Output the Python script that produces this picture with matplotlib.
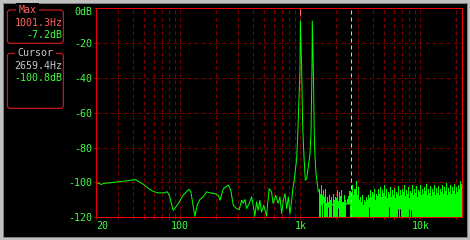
import matplotlib
matplotlib.use("Agg")
import matplotlib.pyplot as plt
import matplotlib.transforms as mtransforms
from matplotlib.patches import Rectangle, FancyBboxPatch

# spectrum trace, low frequency part (Hz, dB)
line_freq = [20, 22.1, 22.8, 26.8, 30.1, 35.9, 41.9, 43.3, 50.6, 54.1, 59.3, 65.3,
             72.0, 77.9, 80.9, 87.3, 96.3, 105.3, 118.4, 122.5, 132.3, 138.3, 145.6,
             155.1, 165.5, 176.6, 194.6, 207.4, 214.4, 228.6, 251.2, 263, 276.5, 295,
             310, 324.7, 335, 345.8, 357, 375.6, 393, 405, 418.6, 432, 445.9, 460, 475,
             497, 523, 550, 576, 593, 625, 653, 677, 700, 722, 746, 770, 795, 821, 848,
             864, 886, 903, 933, 951, 975, 994, 1001.3, 1027, 1047, 1074, 1101, 1131,
             1166, 1205, 1228, 1252, 1259, 1284, 1308, 1326, 1352, 1386, 1413]
line_db = [-100.1, -101.2, -100.6, -100.1, -99.7, -99.1, -98.4, -98.8, -101.6, -103.5,
           -105.1, -106.0, -106.0, -105.4, -107.4, -116.0, -112.2, -107.4, -103.9, -105.4,
           -119.4, -113.0, -109.8, -108.3, -105.4, -106.0, -106.4, -107.4, -110.2, -103.5,
           -101.6, -104.1, -113.1, -115.0, -115.6, -110.2, -112.0, -109.8, -115.0, -112.0,
           -108.3, -113.1, -119.4, -111.2, -116.0, -110.2, -117.0, -113.1, -119.4, -103.5,
           -105.4, -112.0, -107.4, -112.0, -108.3, -117.9, -110.2, -106.4, -115.0, -108.3,
           -117.9, -110.2, -104.5, -99.7, -94.9, -86.3, -73.9, -52.8, -35.6, -7.2, -35.6,
           -68.1, -85.4, -98.8, -97.8, -91.1, -83.4, -72.0, -34.6, -7.5, -34.6, -72.0,
           -85.4, -94.9, -100.5, -105.4]

# dense noise floor above ~1.4 kHz: local peaks
noise_freq = [1432, 1459, 1516, 1575, 1637, 1701, 1768, 1837, 1909, 1984, 2062, 2142,
              2226, 2314, 2404, 2498, 2596, 2698, 2804, 2914, 3028, 3146, 3269, 3398,
              3531, 3669, 3813, 3962, 4117, 4278, 4446, 4620, 4801, 4989, 5184, 5387,
              5598, 5817, 6045, 6282, 6528, 6783, 7049, 7325, 7612, 7910, 8220, 8541,
              8876, 9223, 9584, 9960, 10350, 10755, 11176, 11614, 12068, 12541, 13032,
              13542, 14072, 14623, 15196, 15791, 16409, 17052, 17719, 18413, 19134,
              19883, 20662, 21471, 22050]
noise_top = [-106, -103.5, -101.6, -104.5, -103.5, -108.3, -107, -108.3, -106.4, -108.3,
             -104.5, -105.5, -104.5, -107.4, -110.2, -109.3, -105, -101.6, -103.5, -99,
             -102.6, -108.3, -107.4, -110, -108.3, -107, -104.5, -105.5, -103.5, -106.4,
             -104, -102.6, -104.5, -101.6, -103.5, -105.5, -102.6, -104.5, -103, -105.5,
             -102, -104.5, -103.5, -101.6, -104.5, -102.6, -105, -101.6, -103.5, -102,
             -104.5, -101.6, -103.5, -102.6, -100.8, -103.5, -102, -104, -101.6, -103,
             -102, -103.5, -101.6, -102.6, -100.6, -103, -101.6, -102.6, -101, -102.6,
             -101.6, -99, -101]
# noise floor: local dips between the peaks
dip_freq = [1487, 1545, 1606, 1669, 1734, 1802, 1872, 1946, 2022, 2101, 2183, 2269,
            2358, 2450, 2546, 2646, 2750, 2858, 2970, 3086, 3207, 3333, 3463, 3599,
            3740, 3887, 4039, 4197, 4361, 4532, 4710, 4894, 5086, 5285, 5492, 5707,
            5931, 6163, 6405, 6655, 6916, 7187, 7469, 7761, 8065, 8381, 8709, 9050,
            9405, 9773, 10140, 10553, 10966, 11395, 11841, 12305, 12787, 13287, 13807,
            14348, 14910, 15493, 16100, 16730, 17385, 18066, 18773, 19508, 20271, 21065]
dip_db = [-106.5, -107, -108.5, -112, -111, -110, -112.5, -110, -109, -110.5, -108, -111,
          -113, -112, -108, -106, -107.5, -104, -107, -110, -111, -113, -111.5, -110,
          -109, -108.5, -107.5, -110, -108, -106.5, -108.5, -106, -108, -109, -106.5,
          -108.5, -107, -109, -106.5, -108, -107.5, -105.5, -108, -106.5, -109, -106,
          -107.5, -106, -108.5, -105.5, -107.5, -106.5, -105, -107.5, -106, -108, -105.5,
          -107, -106, -107.5, -105.5, -106.5, -105, -107, -105.5, -106.5, -105, -106.5,
          -105.5, -104]
# dark notches at the bottom of the noise floor
notch_freq = [1480, 1560, 1700, 1840, 2062, 2400, 2450, 2500, 2550, 3740, 5490, 6530,
              6780, 8065, 8380]
notch_db = [-113, -112, -114, -113, -114.5, -112.5, -112.5, -112.5, -112.5, -114, -114,
            -115, -115, -115.5, -116]

y_ticks = [0, -20, -40, -60, -80, -100, -120]
y_labels = ["0dB", "-20", "-40", "-60", "-80", "-100", "-120"]
x_ticks = [20, 100, 1000, 10000]
x_labels = ["20", "100", "1k", "10k"]
grid_freq = [30, 40, 50, 60, 70, 80, 90, 100, 200, 300, 400, 500, 600, 700, 800, 900,
             1000, 2000, 3000, 4000, 5000, 6000, 7000, 8000, 9000, 10000, 20000]

max_freq, max_db = 1001.3, -7.2
cursor_freq, cursor_db = 2659.4, -100.8

GREEN = "#00ff00"
LABEL_GREEN = "#40ff40"
RED = "#f00000"
DARK_RED = "#800000"
PINK = "#ff6464"
GRAY = "#c8c8c8"
FONT = "DejaVu Sans Mono"
FS = 7.2
PX = 0.72  # one pixel in points at 100 dpi

W, H = 470, 240
fig = plt.figure(figsize=(W / 100, H / 100), dpi=100, facecolor="#c0c0c0")

# overlay in pixel coordinates for the frame and side panels
bg = fig.add_axes([0, 0, 1, 1], zorder=0)
bg.set_xlim(0, W)
bg.set_ylim(H, 0)
bg.axis("off")
bg.add_patch(Rectangle((3, 3), 464, 234, facecolor="black", edgecolor="#808080", lw=PX))

for (y0, y1) in [(10, 43.3), (53.3, 108.3)]:
    bg.add_patch(FancyBboxPatch((7.3, y0), 56, y1 - y0,
                                boxstyle="round,pad=0,rounding_size=3",
                                facecolor="none", edgecolor="#f02020", lw=PX))
bg.text(27.5, 10, "Max", color=PINK, fontsize=FS, family=FONT, ha="center", va="center",
        bbox=dict(facecolor="black", edgecolor="none", pad=1.5))
bg.text(62.5, 22.7, "%.1fHz" % max_freq, color=PINK, fontsize=FS, family=FONT,
        ha="right", va="center")
bg.text(62.5, 35, "%.1fdB" % max_db, color=LABEL_GREEN, fontsize=FS, family=FONT,
        ha="right", va="center")
bg.text(35.5, 53.3, "Cursor", color=GRAY, fontsize=FS, family=FONT, ha="center",
        va="center", bbox=dict(facecolor="black", edgecolor="none", pad=1.5))
bg.text(62.5, 65.7, "%.1fHz" % cursor_freq, color=GRAY, fontsize=FS, family=FONT,
        ha="right", va="center")
bg.text(62.5, 78.3, "%.1fdB" % cursor_db, color=LABEL_GREEN, fontsize=FS, family=FONT,
        ha="right", va="center")

# main spectrum axes
left, right, top, bottom = 96.4, 461.5, 8.0, 217.3
ax = fig.add_axes([left / W, 1 - bottom / H, (right - left) / W, (bottom - top) / H],
                  zorder=1)
ax.set_facecolor("black")
ax.set_xscale("log")
ax.set_xlim(20, 22050)
ax.set_ylim(-120, 0)

dash = (0, (4, 3))
for f in grid_freq:
    ax.axvline(f, color=DARK_RED, lw=PX, ls=dash, zorder=1)
for d in y_ticks[1:-1]:
    ax.axhline(d, color=DARK_RED, lw=PX, ls=dash, zorder=1)

floor = sorted(zip(noise_freq + dip_freq, noise_top + dip_db))
ax.fill_between([p[0] for p in floor], [p[1] for p in floor], -120, step="mid",
                color=GREEN, lw=0, zorder=2)
ax.vlines(notch_freq, -120, notch_db, color="black", lw=PX, zorder=3)
ax.plot(line_freq, line_db, color=GREEN, lw=PX, zorder=4)

ax.axvline(cursor_freq, color="#d0d0d0", lw=PX, ls=dash, zorder=5)
ax.vlines([max_freq], -4.5, 0, color=PINK, lw=PX, zorder=6)

for s in ax.spines.values():
    s.set_color(RED)
    s.set_linewidth(PX)
    s.set_zorder(7)

ax.set_xticks(x_ticks)
ax.set_xticklabels(x_labels)
ax.set_xticks(grid_freq, minor=True)
ax.xaxis.set_minor_formatter(matplotlib.ticker.NullFormatter())
ax.set_yticks(y_ticks)
ax.set_yticklabels(y_labels)
ax.tick_params(axis="both", which="both", direction="out", length=2 * PX, width=PX,
               color="#b00000", labelcolor=LABEL_GREEN, labelsize=FS)
ax.tick_params(axis="x", pad=1.0)
ax.tick_params(axis="y", pad=1.6)
for lab in ax.get_xticklabels() + ax.get_yticklabels():
    lab.set_family(FONT)

# first x label sits inside the axis start, 0dB label is nudged down
xl = ax.get_xticklabels()[0]
xl.set_horizontalalignment("left")
yl = ax.get_yticklabels()[0]
yl.set_transform(yl.get_transform() + mtransforms.ScaledTranslation(0, -0.028, fig.dpi_scale_trans))

fig.savefig("out.png", dpi=100, facecolor=fig.get_facecolor())
